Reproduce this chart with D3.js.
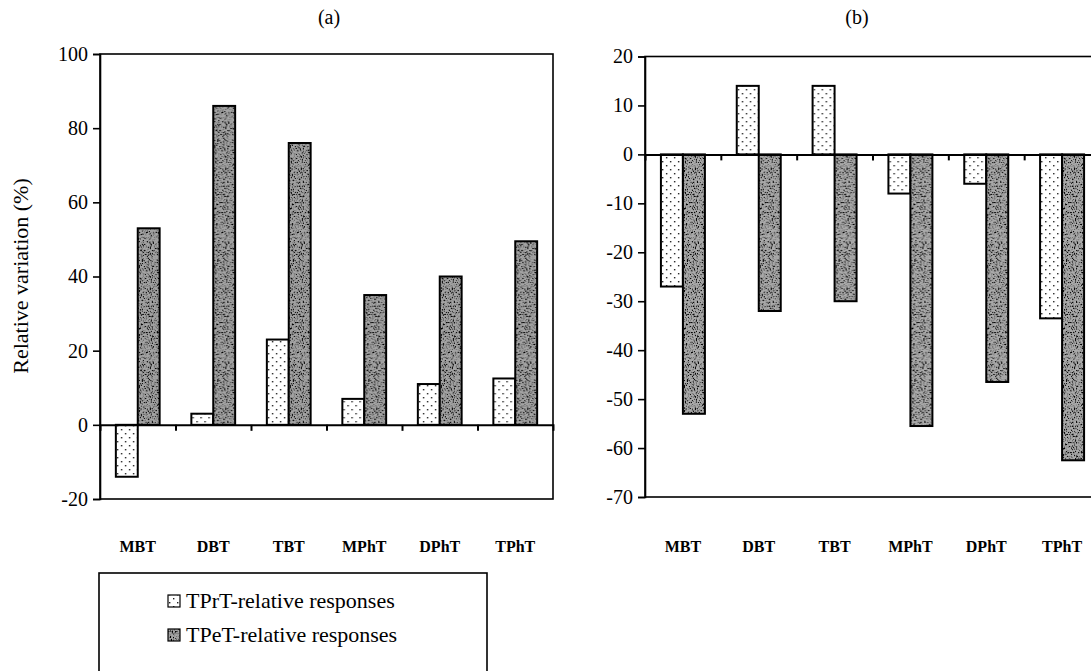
<!DOCTYPE html>
<html>
<head>
<meta charset="utf-8">
<script src="https://d3js.org/d3.v7.min.js"></script>
<style>
  body { margin: 0; background: #fff; }
  svg { display: block; }
  svg text { font-family: "Liberation Serif", "DejaVu Serif", serif; fill: #000; }
  .tick-lbl { font-size: 20px; }
  .leg-lbl { font-size: 22px; }
  .cat-lbl { font-size: 16px; font-weight: bold; }
</style>
</head>
<body>
<div id="container"></div>
<script>
// data
var categories = ["MBT", "DBT", "TBT", "MPhT", "DPhT", "TPhT"];
var seriesNames = ["TPrT-relative responses", "TPeT-relative responses"];
var tprtA = [-14, 3, 23, 7, 11, 12.5];
var tpetA = [53, 86, 76, 35, 40, 49.5];
var tprtB = [-27, 14, 14, -8, -6, -33.5];
var tpetB = [-53, -32, -30, -55.5, -46.5, -62.5];
var ticksA = [-20, 0, 20, 40, 60, 80, 100];
var ticksB = [-70, -60, -50, -40, -30, -20, -10, 0, 10, 20];

var W = 1091, H = 671;
var svg = d3.select("#container").append("svg")
    .attr("width", W).attr("height", H);

var defs = svg.append("defs");

// dotted fill for TPrT
var dots = defs.append("pattern").attr("id", "dots")
    .attr("patternUnits", "userSpaceOnUse").attr("width", 8).attr("height", 8);
dots.append("rect").attr("width", 8).attr("height", 8).attr("fill", "#fff");
dots.append("rect").attr("x", 1).attr("y", 1).attr("width", 1.4).attr("height", 1.4).attr("fill", "#222");
dots.append("rect").attr("x", 5).attr("y", 5).attr("width", 1.4).attr("height", 1.4).attr("fill", "#222");

// speckled grey for TPeT
function speckFilter(id, grey) {
  var f = defs.append("filter").attr("id", id)
      .attr("x", 0).attr("y", 0).attr("width", 1).attr("height", 1);
  f.append("feTurbulence").attr("type", "fractalNoise")
      .attr("baseFrequency", "0.9 0.5").attr("numOctaves", 2).attr("seed", 3).attr("result", "n");
  f.append("feColorMatrix").attr("type", "matrix")
      .attr("values", "0 0 0 0 0  0 0 0 0 0  0 0 0 0 0  0 0 0 -4.5 2.4")
      .attr("in", "n").attr("result", "a");
  f.append("feFlood").attr("flood-color", grey).attr("result", "bg");
  f.append("feComposite").attr("in", "a").attr("in2", "bg").attr("operator", "over");
}
speckFilter("speckleA", "#a3a3a3");
speckFilter("speckleB", "#aaaaaa");

function speckPattern(id, filt) {
  var p = defs.append("pattern").attr("id", id)
      .attr("patternUnits", "userSpaceOnUse").attr("width", 60).attr("height", 120);
  p.append("rect").attr("width", 60).attr("height", 120).attr("filter", "url(#" + filt + ")");
}
speckPattern("speckA", "speckleA");
speckPattern("speckB", "speckleB");

var fmt = function(d) { return String(d); };

function drawPanel(cfg) {
  var g = svg.append("g");
  var y = d3.scaleLinear().domain(cfg.domain).range([cfg.bottom, cfg.top]);
  var x0 = d3.scaleBand().domain(categories).range([cfg.left, cfg.right])
      .paddingInner(0.42).paddingOuter(0.21);
  var x1 = d3.scaleBand().domain([0, 1]).range([0, x0.bandwidth()]);

  // plot frame
  g.append("rect")
      .attr("x", cfg.left).attr("y", cfg.top)
      .attr("width", cfg.right - cfg.left).attr("height", cfg.bottom - cfg.top)
      .attr("fill", "none").attr("stroke", "#000").attr("stroke-width", 1.6);

  // y axis
  var yAxis = d3.axisLeft(y).tickValues(cfg.ticks).tickSize(7).tickPadding(5)
      .tickFormat(fmt);
  var ya = g.append("g").attr("transform", "translate(" + cfg.left + ",0)").call(yAxis)
      .attr("font-family", null).attr("font-size", null);
  ya.select(".domain").attr("stroke-width", 1.6);
  ya.selectAll(".tick line").attr("stroke-width", 1.6);
  ya.selectAll("text").attr("class", "tick-lbl");

  // bars
  var rows = categories.map(function(c, i) { return {cat: c, vals: [cfg.s1[i], cfg.s2[i]]}; });
  var grp = g.selectAll("g.grp").data(rows).enter().append("g")
      .attr("transform", function(d) { return "translate(" + x0(d.cat) + ",0)"; });
  grp.selectAll("rect").data(function(d) { return d.vals; }).enter().append("rect")
      .attr("x", function(d, i) { return x1(i); })
      .attr("width", x1.bandwidth())
      .attr("y", function(d) { return y(Math.max(0, d)); })
      .attr("height", function(d) { return Math.abs(y(d) - y(0)); })
      .attr("fill", function(d, i) { return i === 0 ? "url(#dots)" : "url(#" + cfg.speck + ")"; })
      .attr("stroke", "#000").attr("stroke-width", 2);

  // zero line with category ticks between groups
  var step = x0.step();
  var bounds = d3.range(1, categories.length).map(function(i) { return cfg.left + i * step; });
  var xb = d3.scaleLinear().domain([cfg.left, cfg.right]).range([cfg.left, cfg.right]);
  var xAxis = d3.axisBottom(xb).tickValues(bounds).tickSize(6).tickFormat("");
  var xa = g.append("g").attr("transform", "translate(0," + y(0) + ")").call(xAxis);
  xa.select(".domain").attr("stroke-width", 2);
  xa.selectAll(".tick line").attr("stroke-width", 2);

  // category labels
  g.selectAll("text.cat-lbl").data(categories).enter().append("text")
      .attr("class", "cat-lbl")
      .attr("x", function(d) { return x0(d) + x0.bandwidth() / 2; })
      .attr("y", 552)
      .attr("text-anchor", "middle")
      .text(function(d) { return d; });

  // panel title
  g.append("text").attr("class", "tick-lbl")
      .attr("x", cfg.titleX).attr("y", 24).attr("text-anchor", "middle")
      .text(cfg.title);
}

drawPanel({left: 100, right: 553, top: 54, bottom: 499, domain: [-20, 100],
           ticks: ticksA, s1: tprtA, s2: tpetA, speck: "speckA", title: "(a)", titleX: 329});
drawPanel({left: 645, right: 1100, top: 56.5, bottom: 497, domain: [-70, 20],
           ticks: ticksB, s1: tprtB, s2: tpetB, speck: "speckB", title: "(b)", titleX: 857});

// y axis title
svg.append("text").attr("class", "leg-lbl")
    .attr("transform", "translate(28,276) rotate(-90)")
    .attr("text-anchor", "middle")
    .text("Relative variation (%)");

// legend
var lg = svg.append("g");
lg.append("rect").attr("x", 99).attr("y", 573).attr("width", 388).attr("height", 140)
    .attr("fill", "none").attr("stroke", "#000").attr("stroke-width", 1.6);
var items = lg.selectAll("g.item").data(seriesNames).enter().append("g")
    .attr("transform", function(d, i) { return "translate(168," + (601 + i * 34) + ")"; });
items.append("rect").attr("x", 0).attr("y", -6).attr("width", 12).attr("height", 12)
    .attr("fill", function(d, i) { return i === 0 ? "url(#dots)" : "url(#speckA)"; })
    .attr("stroke", "#000").attr("stroke-width", 1.2);
items.append("text").attr("class", "leg-lbl")
    .attr("x", 18).attr("y", 7)
    .text(function(d) { return d; });
</script>
</body>
</html>
